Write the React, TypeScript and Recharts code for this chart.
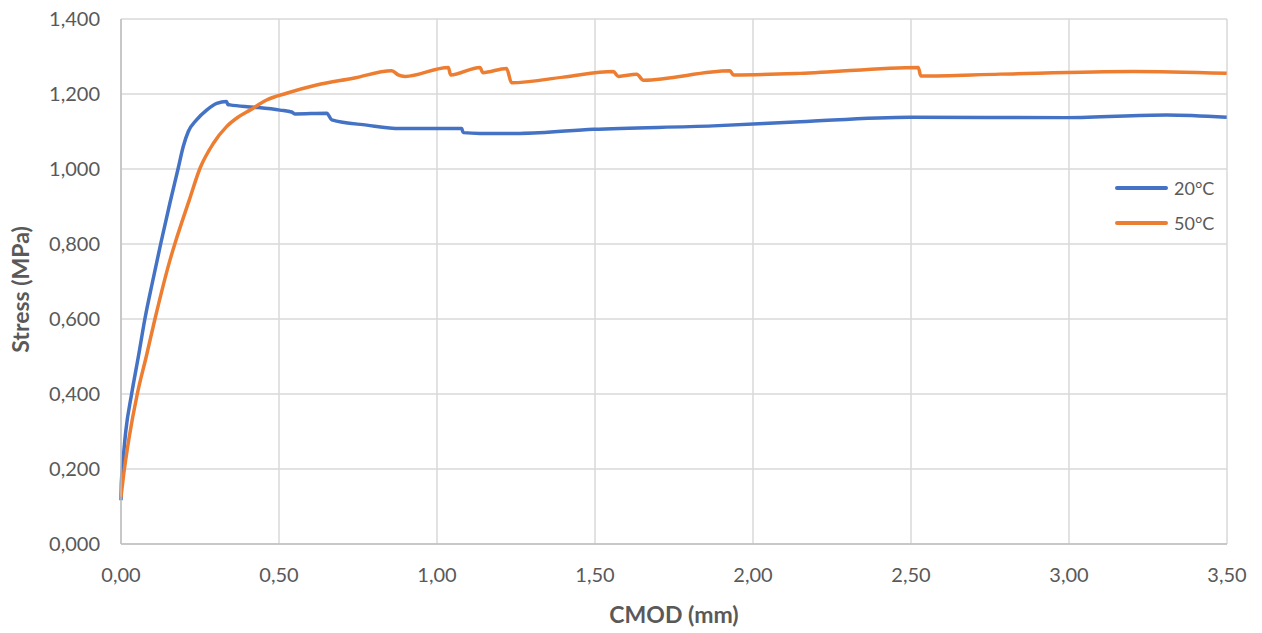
import React from 'react';
import { LineChart, Line, XAxis, YAxis, CartesianGrid } from 'recharts';

const seriesNames = ['20°C', '50°C'];
const seriesColors = ['#4472C4', '#ED7D31'];

const cmod20 = [0, 0.001, 0.005, 0.015, 0.034, 0.055, 0.076, 0.1, 0.126, 0.155, 0.181, 0.197, 0.213, 0.239, 0.271, 0.303, 0.334, 0.338, 0.345, 0.42, 0.503, 0.54, 0.55, 0.651, 0.667, 0.778, 0.883, 0.999, 1.078, 1.083, 1.136, 1.263, 1.495, 1.874, 2.149, 2.497, 2.993, 3.309, 3.499];
const stress20 = [0.117, 0.16, 0.206, 0.3, 0.402, 0.5, 0.602, 0.7, 0.802, 0.91, 1.002, 1.06, 1.1, 1.131, 1.157, 1.175, 1.18, 1.172, 1.171, 1.165, 1.157, 1.152, 1.147, 1.149, 1.131, 1.117, 1.108, 1.108, 1.108, 1.097, 1.095, 1.095, 1.106, 1.115, 1.126, 1.138, 1.137, 1.144, 1.138];

const cmod50 = [0, 0.009, 0.025, 0.052, 0.08, 0.108, 0.155, 0.171, 0.216, 0.25, 0.292, 0.334, 0.37, 0.408, 0.461, 0.524, 0.619, 0.735, 0.857, 0.877, 0.899, 1.036, 1.043, 1.136, 1.145, 1.22, 1.236, 1.4, 1.558, 1.574, 1.632, 1.653, 1.927, 1.938, 2.149, 2.523, 2.531, 2.782, 3.203, 3.499];
const stress50 = [0.126, 0.189, 0.28, 0.402, 0.5, 0.602, 0.757, 0.802, 0.917, 1.002, 1.068, 1.113, 1.138, 1.157, 1.184, 1.202, 1.224, 1.242, 1.262, 1.251, 1.247, 1.271, 1.251, 1.271, 1.257, 1.268, 1.23, 1.245, 1.26, 1.247, 1.253, 1.237, 1.262, 1.251, 1.255, 1.271, 1.248, 1.253, 1.26, 1.255];

const xTicks = [0, 0.5, 1, 1.5, 2, 2.5, 3, 3.5];
const yTicks = [0, 0.2, 0.4, 0.6, 0.8, 1.0, 1.2, 1.4];

const xTitle = 'CMOD (mm)';
const yTitle = 'Stress (MPa)';

const data20 = cmod20.map((x, i) => ({ x, y: stress20[i] }));
const data50 = cmod50.map((x, i) => ({ x, y: stress50[i] }));

const FONT = 'Lato, "Open Sans", sans-serif';
const TEXT = '#595959';

const fmtX = (v: number) => v.toFixed(2).replace('.', ',');
const fmtY = (v: number) => v.toFixed(3).replace('.', ',');

const LegendBox = () => (
  <div style={{ position: 'absolute', left: 1115, top: 170, fontFamily: FONT, fontSize: 18, color: TEXT }}>
    {seriesNames.map((n, i) => (
      <div key={n} style={{ display: 'flex', alignItems: 'center', height: 35 }}>
        <div style={{ width: 53, height: 4, borderRadius: 2, background: seriesColors[i], marginRight: 6 }} />
        <span>{n}</span>
      </div>
    ))}
  </div>
);

const YTitle = (props: any) => {
  const vb = props.viewBox;
  const cx = 20;
  const cy = vb.y + vb.height / 2 + 8;
  return (
    <text x={cx} y={cy} transform={`rotate(-90 ${cx} ${cy})`} textAnchor="middle" dominantBaseline="central"
      fill={TEXT} fontFamily={FONT} fontSize={23} fontWeight="bold">{yTitle}</text>
  );
};

const XTitle = (props: any) => {
  const vb = props.viewBox;
  const cx = vb.x + vb.width / 2;
  return (
    <text x={cx} y={614} textAnchor="middle" dominantBaseline="central"
      fill={TEXT} fontFamily={FONT} fontSize={23} fontWeight="bold">{xTitle}</text>
  );
};

export default function App() {
  return (
    <div style={{ position: 'fixed', left: 0, top: 0, width: 1262, height: 633, background: '#fff' }}>
      <LineChart width={1262} height={633} margin={{ top: 19, right: 35, bottom: 0, left: 0 }}>
        <CartesianGrid stroke="#d9d9d9" strokeWidth={1.5} />
        <XAxis
          dataKey="x"
          type="number"
          domain={[0, 3.5]}
          ticks={xTicks}
          tickFormatter={fmtX}
          allowDuplicatedCategory={false}
          height={89}
          tickLine={false}
          tickSize={0}
          tickMargin={24}
          axisLine={{ stroke: '#bfbfbf', strokeWidth: 1.5 }}
          tick={{ fill: TEXT, fontFamily: FONT, fontSize: 20 }}
          label={<XTitle />}
        />
        <YAxis
          dataKey="y"
          type="number"
          domain={[0, 1.4]}
          ticks={yTicks}
          tickFormatter={fmtY}
          width={121}
          tickLine={false}
          tickSize={0}
          tickMargin={21}
          axisLine={{ stroke: '#bfbfbf', strokeWidth: 1.5 }}
          tick={{ fill: TEXT, fontFamily: FONT, fontSize: 20 }}
          label={<YTitle />}
        />
        <Line data={data20} dataKey="y" name={seriesNames[0]} stroke={seriesColors[0]} strokeWidth={3.5} dot={false} type="monotone" isAnimationActive={false} />
        <Line data={data50} dataKey="y" name={seriesNames[1]} stroke={seriesColors[1]} strokeWidth={3.5} dot={false} type="monotone" isAnimationActive={false} />
      </LineChart>
      <LegendBox />
    </div>
  );
}
